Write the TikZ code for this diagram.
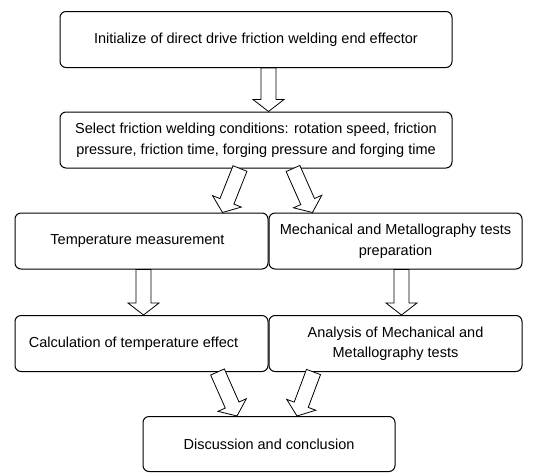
\documentclass[tikz,border=0pt]{standalone}
\usepackage{fontspec}
\setmainfont{Liberation Sans}
\usetikzlibrary{calc}

% hollow block arrow between two points
\newcommand{\hollowarrow}[2]{%
    \coordinate (hb) at ($(#2)!12pt!(#1)$);
    \draw[blockarrow] ($(#1)!7.5pt!90:(#2)$) -- ($(hb)!7.5pt!-90:(#1)$)
        -- ($(hb)!15.5pt!-90:(#1)$) -- (#2) -- ($(hb)!15.5pt!90:(#1)$)
        -- ($(hb)!7.5pt!90:(#1)$) -- ($(#1)!7.5pt!-90:(#2)$) -- cycle;
}

\begin{document}
\begin{tikzpicture}[x=1pt, y=-1pt]
        % ================= styles =================
        \tikzset{
            step box/.style={draw=black, line width=1pt, rounded corners=6pt, fill=white,
                align=center, inner sep=2pt, font=\fontsize{14.5}{20.5}\selectfont},
            wide box/.style={step box, minimum width=392pt, minimum height=56pt},
            half box/.style={step box, minimum width=253pt, minimum height=56pt},
            blockarrow/.style={draw=black, line width=0.8pt, fill=white, line join=miter}
        }
        \useasboundingbox (0,0) rectangle (549,472);

        % ================= boxes =================
        \node[wide box] (init) at (256,39.5) {Initialize of direct drive friction welding end effector};
        \node[wide box] (cond) at (256,140)  {Select friction welding conditions: rotation speed, friction\\pressure, friction time, forging pressure and forging time};

        \node[half box] (temp) at (141.5,241) {Temperature measurement\hspace{8pt}};
        \node[half box] (prep) at (395.5,241) {Mechanical and Metallography tests\\preparation};

        \node[half box] (calc) at (141.5,343.5) {Calculation of temperature effect\hspace{16pt}};
        \node[half box] (anal) at (395.5,343.5) {Analysis of Mechanical and\\Metallography tests};

        \node[step box, minimum width=252pt, minimum height=55pt] (disc) at (269,444) {Discussion and conclusion};

        % ================= arrows =================
        \coordinate (a1) at ([xshift=12.5pt]init.south);
        \coordinate (b1) at ([xshift=12.5pt]cond.north);
        \hollowarrow{a1}{b1}

        \coordinate (a2) at ([xshift=-16pt]cond.south);
        \coordinate (b2) at ([xshift=81pt]temp.north);
        \hollowarrow{a2}{b2}
        \coordinate (a3) at ([xshift=37pt]cond.south);
        \coordinate (b3) at ([xshift=-83pt]prep.north);
        \hollowarrow{a3}{b3}

        \coordinate (a4) at ([xshift=2pt]temp.south);
        \coordinate (b4) at ([xshift=2pt]calc.north);
        \hollowarrow{a4}{b4}
        \coordinate (a5) at ([xshift=6pt]prep.south);
        \coordinate (b5) at ([xshift=6pt]anal.north);
        \hollowarrow{a5}{b5}

        \coordinate (a6) at ([xshift=76pt]calc.south);
        \coordinate (b6) at ([xshift=-32pt]disc.north);
        \hollowarrow{a6}{b6}
        \coordinate (a7) at ([xshift=-82pt]anal.south);
        \coordinate (b7) at ([xshift=28pt]disc.north);
        \hollowarrow{a7}{b7}
\end{tikzpicture}
\end{document}
